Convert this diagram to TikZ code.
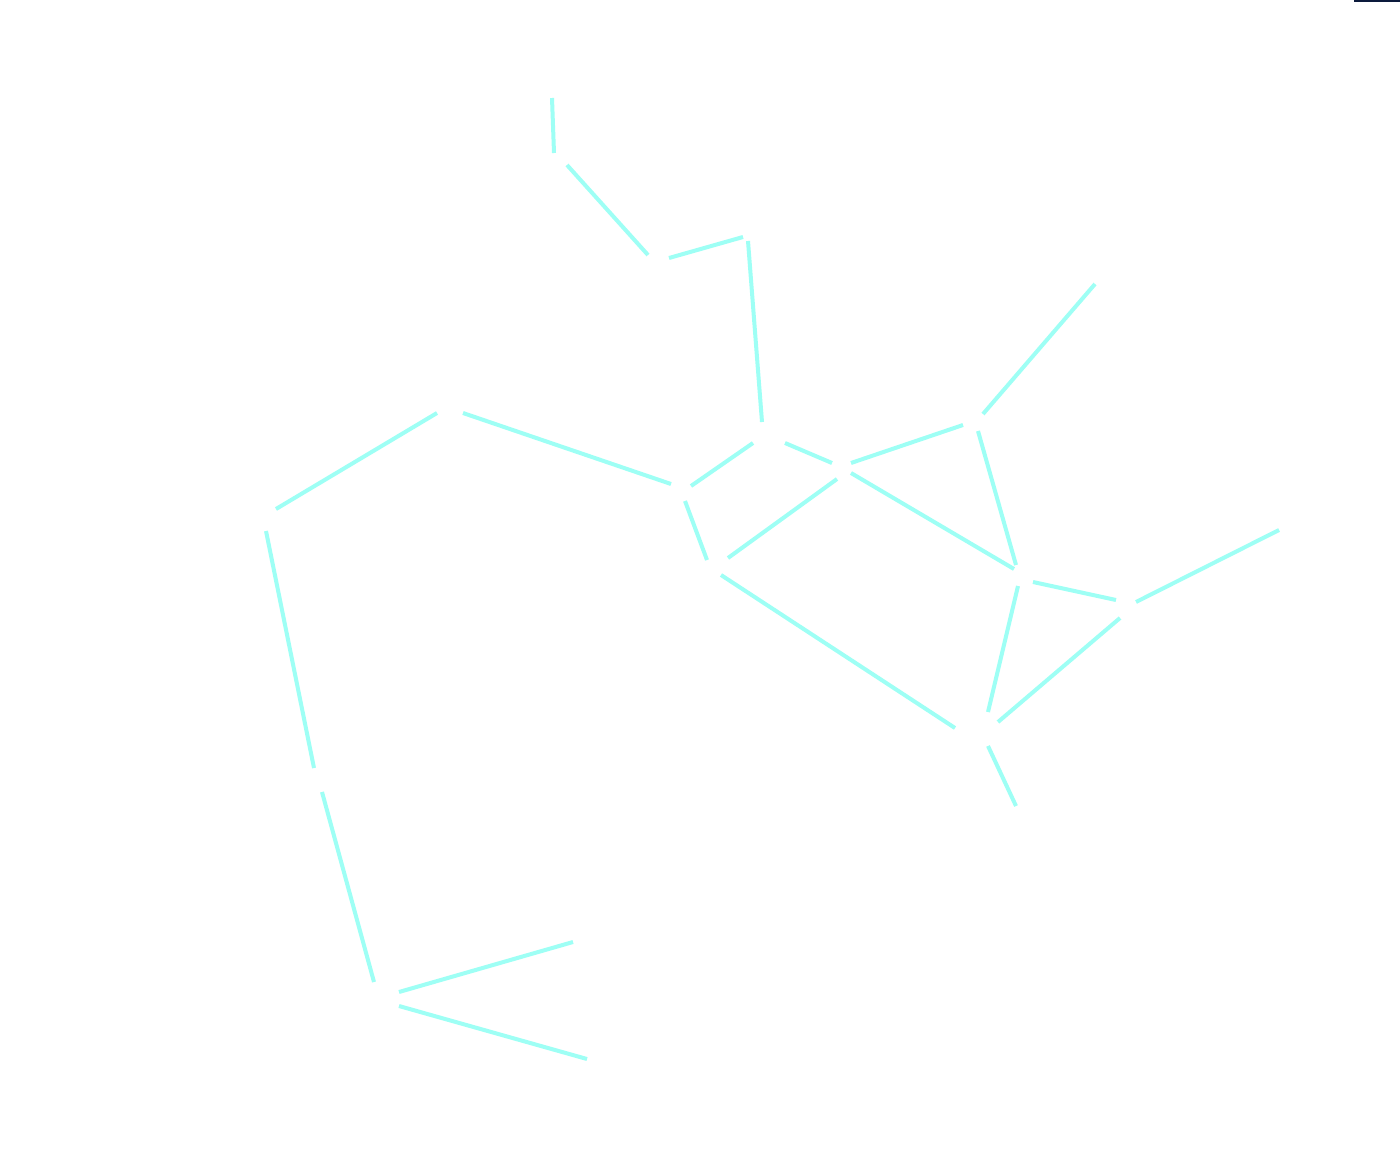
\documentclass[tikz,border=0pt]{standalone}
\begin{document}
\begin{tikzpicture}[x=1pt,y=-1pt,
  conline/.style={draw=starline, line width=4pt, line cap=butt}]
\definecolor{starline}{RGB}{158,255,245}
\definecolor{navybar}{RGB}{12,26,60}
\useasboundingbox (0,0) rectangle (1400,1162);
\fill[white] (0,0) rectangle (1400,1162);
\fill[navybar] (1354,0) rectangle (1400,2);
% segment end points
\coordinate (p1a) at (552,98);   \coordinate (p1b) at (554,153);
\coordinate (p2a) at (567,165);  \coordinate (p2b) at (648,255);
\coordinate (p3a) at (669,258);  \coordinate (p3b) at (743,237);
\coordinate (p4a) at (748,241);  \coordinate (p4b) at (762,422);
\coordinate (p5a) at (753,443);  \coordinate (p5b) at (691,486);
\coordinate (p6a) at (785,443);  \coordinate (p6b) at (832,463);
\coordinate (p7a) at (851,463);  \coordinate (p7b) at (963,425);
\coordinate (p8a) at (851,473);  \coordinate (p8b) at (1014,569);
\coordinate (p9a) at (837,479);  \coordinate (p9b) at (728,558);
\coordinate (p10a) at (983,414); \coordinate (p10b) at (1095,284);
\coordinate (p11a) at (978,431); \coordinate (p11b) at (1016,565);
\coordinate (p12a) at (1033,582);\coordinate (p12b) at (1116,600);
\coordinate (p13a) at (1018,586);\coordinate (p13b) at (988,712);
\coordinate (p14a) at (1136,602);\coordinate (p14b) at (1279,530);
\coordinate (p15a) at (1120,618);\coordinate (p15b) at (998,722);
\coordinate (p16a) at (955,728); \coordinate (p16b) at (721,575);
\coordinate (p17a) at (988,746); \coordinate (p17b) at (1016,806);
\coordinate (p18a) at (707,560); \coordinate (p18b) at (685,501);
\coordinate (p19a) at (671,484); \coordinate (p19b) at (463,413);
\coordinate (p20a) at (437,413); \coordinate (p20b) at (276,509);
\coordinate (p21a) at (266,531); \coordinate (p21b) at (314,768);
\coordinate (p22a) at (322,792); \coordinate (p22b) at (374,982);
\coordinate (p23a) at (399,992); \coordinate (p23b) at (573,942);
\coordinate (p24a) at (399,1006);\coordinate (p24b) at (587,1059);
\foreach \i in {1,...,24}{
  \draw[conline] (p\i a) -- (p\i b);
}
\end{tikzpicture}
\end{document}
